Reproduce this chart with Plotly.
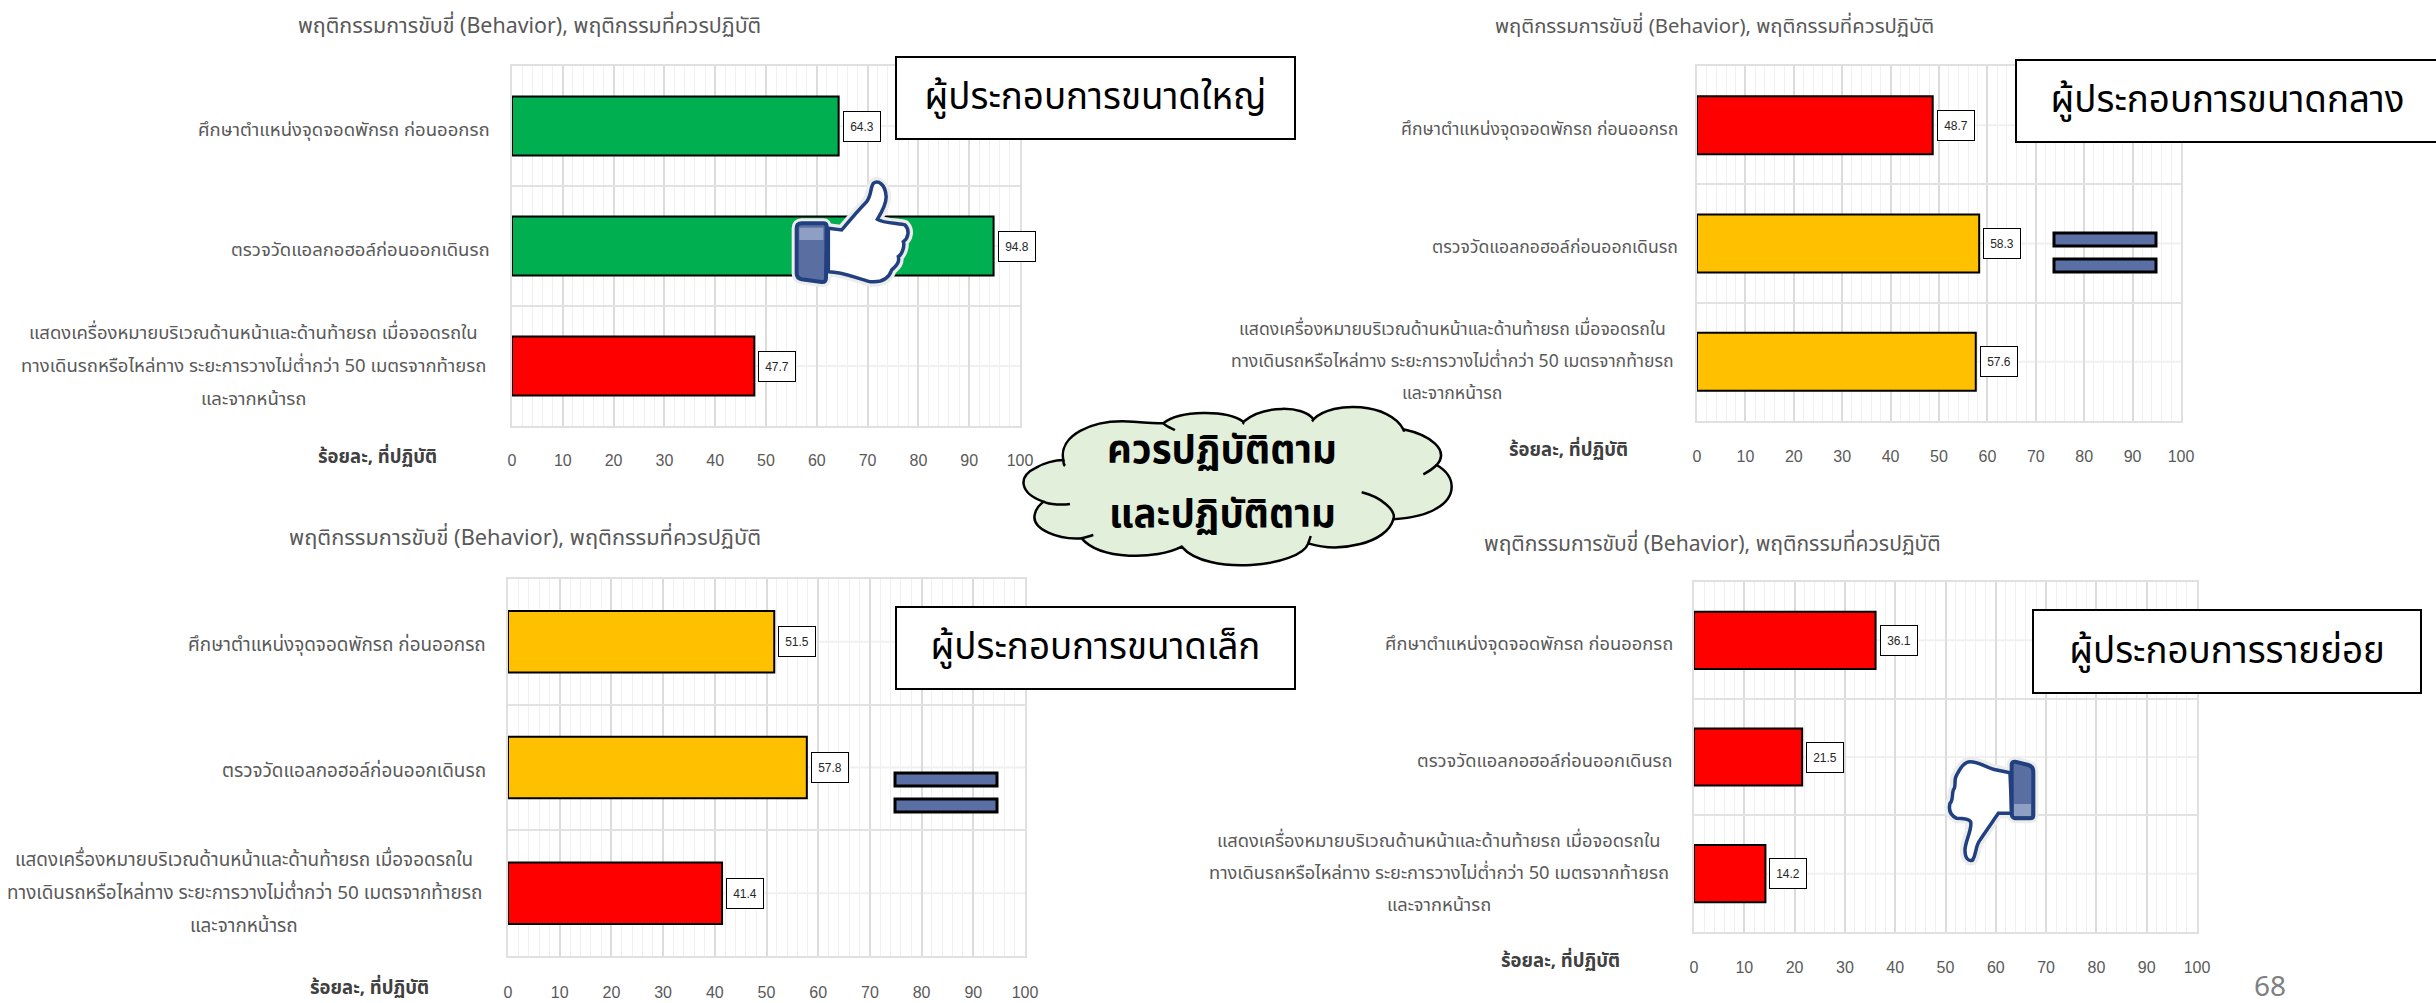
import plotly.graph_objects as go

W, H = 2436, 1003
FONT = "Noto Sans Thai, Noto Sans Thai Looped, Noto Sans, DejaVu Sans, sans-serif"
NUM = "Liberation Sans, sans-serif"

categories = ["c1", "c2", "c3"]
label_lines = [
    ["ศึกษาตำแหน่งจุดจอดพักรถ ก่อนออกรถ"],
    ["ตรวจวัดแอลกอฮอล์ก่อนออกเดินรถ"],
    ["แสดงเครื่องหมายบริเวณด้านหน้าและด้านท้ายรถ เมื่อจอดรถใน",
     "ทางเดินรถหรือไหล่ทาง ระยะการวางไม่ต่ำกว่า 50 เมตรจากท้ายรถ",
     "และจากหน้ารถ"],
]
title_text = "พฤติกรรมการขับขี่ (Behavior), พฤติกรรมที่ควรปฏิบัติ"
xlabel_text = "ร้อยละ, ที่ปฏิบัติ"
cloud_lines = ["ควรปฏิบัติตาม", "และปฏิบัติตาม"]

large_name = "ผู้ประกอบการขนาดใหญ่"
medium_name = "ผู้ประกอบการขนาดกลาง"
small_name = "ผู้ประกอบการขนาดเล็ก"
micro_name = "ผู้ประกอบการรายย่อย"

large_values = [64.3, 94.8, 47.7]
medium_values = [48.7, 58.3, 57.6]
small_values = [51.5, 57.8, 41.4]
micro_values = [36.1, 21.5, 14.2]

GREEN, RED, AMBER = "#00B050", "#FF0000", "#FFC000"
large_colors = [GREEN, GREEN, RED]
medium_colors = [RED, AMBER, AMBER]
small_colors = [AMBER, AMBER, RED]
micro_colors = [RED, RED, RED]

panels = [
    dict(name=large_name, v=large_values, c=large_colors, box=(512, 1020, 66, 426), title=(529, 27),
         xl=(377, 457), lab=488, block=470, tag=(895, 1296, 56, 140), off=19, fl=18.5, ft=21.4, ls=33),
    dict(name=medium_name, v=medium_values, c=medium_colors, box=(1697, 2181, 66, 421), title=(1715, 27),
         xl=(1568, 450), lab=1676, block=448, tag=(2015, 2440, 59, 143), off=20, fl=17.6, ft=20.3, ls=32),
    dict(name=small_name, v=small_values, c=small_colors, box=(508, 1025, 579, 956), title=(525, 538),
         xl=(369, 988), lab=484, block=480, tag=(895, 1296, 606, 690), off=21, fl=18.9, ft=21.8, ls=33),
    dict(name=micro_name, v=micro_values, c=micro_colors, box=(1694, 2197, 582, 932), title=(1712, 544),
         xl=(1560, 961), lab=1671, block=465, tag=(2032, 2422, 609, 694), off=20, fl=18.3, ft=21.1, ls=32),
]

def px(x): return x / W
def py(y): return 1 - y / H

fig = go.Figure()
annotations, shapes = [], []
layout = {}
TXT = "#595959"

for i, p in enumerate(panels):
    n = "" if i == 0 else str(i + 1)
    x0, x1, y0, y1 = p["box"]
    fig.add_trace(go.Bar(x=p["v"], y=categories, orientation="h", xaxis="x" + n, yaxis="y" + n,
                         width=0.49, marker=dict(color=p["c"], line=dict(color="#000000", width=2)),
                         showlegend=False, hoverinfo="x"))
    layout["xaxis" + n] = dict(domain=[px(x0), px(x1)], anchor="y" + n, range=[0, 100], dtick=10,
                               tickfont=dict(family=NUM, size=16, color=TXT), ticks="", ticklabelstandoff=p["off"],
                               showgrid=True, gridcolor="#dcdcdc", gridwidth=1.5, zeroline=False,
                               minor=dict(dtick=2, showgrid=True, gridcolor="#f0f0f0", gridwidth=1, ticks=""),
                               showline=True, linecolor="#e0e0e0", linewidth=2, mirror=True)
    layout["yaxis" + n] = dict(domain=[py(y1), py(y0)], anchor="x" + n, type="category",
                               categoryorder="array", categoryarray=categories,
                               range=[2.5, -0.5], tickson="boundaries", showticklabels=False, ticks="",
                               showgrid=True, gridcolor="#e2e2e2", gridwidth=2,
                               showline=True, linecolor="#e0e0e0", linewidth=2, mirror=True)
    for c in categories:
        shapes.append(dict(type="line", xref=f"x{n} domain", yref="y" + n, x0=0, x1=1, y0=c, y1=c,
                           line=dict(color="#f0f0f0", width=2), layer="below"))
    # value labels
    for c, v in zip(categories, p["v"]):
        annotations.append(dict(xref="x" + n, yref="y" + n, x=v, y=c, xanchor="left", yanchor="middle", xshift=4,
                                text=f"{v:.1f}", showarrow=False, width=34, height=27,
                                bgcolor="white", bordercolor="#000000", borderwidth=1,
                                font=dict(family=NUM, size=12, color="#262626")))
    # category labels
    for c, lines in zip(categories, label_lines):
        if len(lines) == 1:
            annotations.append(dict(xref="paper", yref="y" + n, x=px(p["lab"] + 4), y=c, xanchor="right",
                                    yanchor="middle", yshift=-4, text=lines[0], showarrow=False,
                                    font=dict(family=FONT, size=p["fl"], color=TXT)))
        else:
            for k, line in enumerate(lines):
                annotations.append(dict(xref="paper", yref="y" + n, x=px(p["lab"] - p["block"] / 2), y=c,
                                        xanchor="center", yanchor="middle", yshift=(1 - k) * p["ls"], text=line,
                                        showarrow=False, font=dict(family=FONT, size=p["fl"], color=TXT)))
    # panel title + x label
    annotations.append(dict(xref="paper", yref="paper", x=px(p["title"][0]), y=py(p["title"][1]), text=title_text,
                            xanchor="center", yanchor="middle",
                            showarrow=False, font=dict(family=FONT, size=p["ft"], color=TXT)))
    annotations.append(dict(xref="paper", yref="paper", x=px(p["xl"][0]), y=py(p["xl"][1]),
                            xanchor="center", yanchor="middle",
                            text="<b>" + xlabel_text + "</b>", showarrow=False,
                            font=dict(family=FONT, size=18.5, color="#404040")))
    # group tag
    a, b, t, u = p["tag"]
    annotations.append(dict(xref="paper", yref="paper", x=px((a + b) / 2), y=py((t + u) / 2), text=p["name"],
                            xanchor="center", yanchor="middle",
                            showarrow=False, width=b - a - 6, height=u - t - 6, bgcolor="white",
                            bordercolor="#000000", borderwidth=2,
                            font=dict(family=FONT, size=36.7, color="#000000")))

def tx(pts_path, ox, oy, s=3.0):
    """Convert a path in crop coordinates to paper coordinates."""
    out, is_x = [], True
    for tok in pts_path.replace(",", " ").split():
        if tok.isalpha():
            out.append(tok)
        else:
            val = float(tok)
            if is_x:
                out.append(f"{px(ox + val / s):.5f}")
            else:
                out.append(f"{py(oy + val / s):.5f}")
            is_x = not is_x
    return " ".join(out)

def paper_path(path, fill=None, color=None, width=0):
    d = dict(type="path", xref="paper", yref="paper", path=path, line=dict(width=width, color=color or "rgba(0,0,0,0)"))
    d["fillcolor"] = fill if fill else "rgba(0,0,0,0)"
    return d

# equals signs
for (a, b, t, u) in [(2054, 2156, 233, 246), (2054, 2156, 259, 272), (895, 997, 773, 786), (895, 997, 799, 812)]:
    shapes.append(dict(type="rect", xref="paper", yref="paper", x0=px(a), x1=px(b), y0=py(t), y1=py(u),
                       fillcolor="#5A6FA3", line=dict(color="#000000", width=3)))

BLUE, CUFF, SHINE, HALO = "#21407F", "#5B6EA2", "#8F9FC3", "#ECECEC"
up_hand = ("M 205 205 L 245 210 C 270 180 300 145 320 125 C 335 105 330 85 340 70 C 355 58 375 75 378 105 "
           "C 382 130 360 165 352 178 C 370 190 420 190 435 195 C 450 210 445 235 430 245 C 435 260 425 285 415 290 "
           "C 420 310 405 320 395 330 C 385 360 360 368 330 365 C 290 355 250 335 205 335 Z")
up_cuff = ("M 125 190 L 190 190 Q 200 190 200 200 L 198 355 Q 197 368 185 366 L 125 358 Q 110 355 110 340 "
           "L 110 205 Q 110 190 125 190 Z")
up_shine = "M 118 203 L 190 203 L 190 240 L 118 240 Z"
down_hand = ("M 330 98 L 290 90 C 260 85 240 65 210 65 C 190 65 175 95 170 105 C 160 120 170 140 160 150 "
             "C 155 165 160 180 150 190 C 145 210 150 225 170 235 C 185 235 205 235 212 245 C 218 265 195 305 195 330 "
             "C 195 355 205 365 218 360 C 230 340 225 320 240 300 C 260 270 285 235 295 220 L 335 220 Z")
down_cuff = ("M 345 65 L 385 75 Q 400 80 400 95 L 400 225 Q 400 235 390 235 L 345 235 Q 335 232 335 222 "
             "L 335 75 Q 335 65 345 65 Z")
down_shine = "M 342 192 L 393 192 L 393 228 L 342 228 Z"
for hand, cuff, shine, ox, oy in [(up_hand, up_cuff, up_shine, 760, 160), (down_hand, down_cuff, down_shine, 1900, 740)]:
    shapes.append(paper_path(tx(hand, ox, oy), "#ffffff", HALO, 10))
    shapes.append(paper_path(tx(cuff, ox, oy), "#ffffff", HALO, 10))
    shapes.append(paper_path(tx(hand, ox, oy), "#ffffff", BLUE, 3.5))
    shapes.append(paper_path(tx(cuff, ox, oy), CUFF, BLUE, 4))
    shapes.append(paper_path(tx(shine, ox, oy), SHINE))

# cloud
cloud = ("M 130 365 C 60 340 50 290 110 262 C 130 250 165 240 190 240 C 175 170 270 115 400 125 C 440 128 470 130 490 130 "
         "C 540 90 680 90 730 125 C 790 75 910 75 940 118 C 1000 60 1170 70 1210 148 C 1290 165 1350 210 1310 255 "
         "C 1370 290 1370 350 1310 385 C 1280 405 1220 415 1180 418 C 1160 490 1020 520 925 490 "
         "C 900 560 620 590 545 500 C 470 540 300 540 245 475 C 180 480 90 450 105 400 C 110 380 125 370 130 365 Z")
shapes.append(paper_path(tx(cloud, 1000, 380), "#E2EFDA", "#000000", 2.5))
for inner in ["M 130 365 C 150 375 190 375 210 372", "M 190 240 C 190 250 192 255 195 258",
              "M 490 130 C 500 140 515 145 525 150", "M 730 125 C 730 128 730 130 728 132",
              "M 940 118 C 940 120 938 122 936 124", "M 1210 148 C 1212 150 1212 152 1212 155",
              "M 1310 255 C 1300 265 1285 275 1270 283", "M 1180 418 C 1190 390 1140 350 1085 337",
              "M 925 490 C 928 480 930 475 932 468",
              "M 245 475 C 258 472 270 468 280 465"]:
    shapes.append(paper_path(tx(inner, 1000, 380), None, "#000000", 2.5))
for txt, yy in zip(cloud_lines, [451, 515]):
    annotations.append(dict(xref="paper", yref="paper", x=px(1222), y=py(yy), text="<b>" + txt + "</b>",
                            xanchor="center", yanchor="middle",
                            showarrow=False, font=dict(family=FONT, size=38.5, color="#000000")))
annotations.append(dict(xref="paper", yref="paper", x=px(2270), y=py(985), text="68", showarrow=False,
                        xanchor="center", yanchor="middle",
                        font=dict(family="Noto Sans, sans-serif", size=28, color="#7F7F7F")))

fig.update_layout(width=W, height=H, margin=dict(l=0, r=0, t=0, b=0, pad=0, autoexpand=False),
                  paper_bgcolor="white", plot_bgcolor="white",
                  annotations=annotations, shapes=shapes, hovermode=False, **layout)
fig.write_html("out.html", config=dict(displayModeBar=False),
               post_script="document.body.style.margin='0';document.body.style.overflow='hidden';")
